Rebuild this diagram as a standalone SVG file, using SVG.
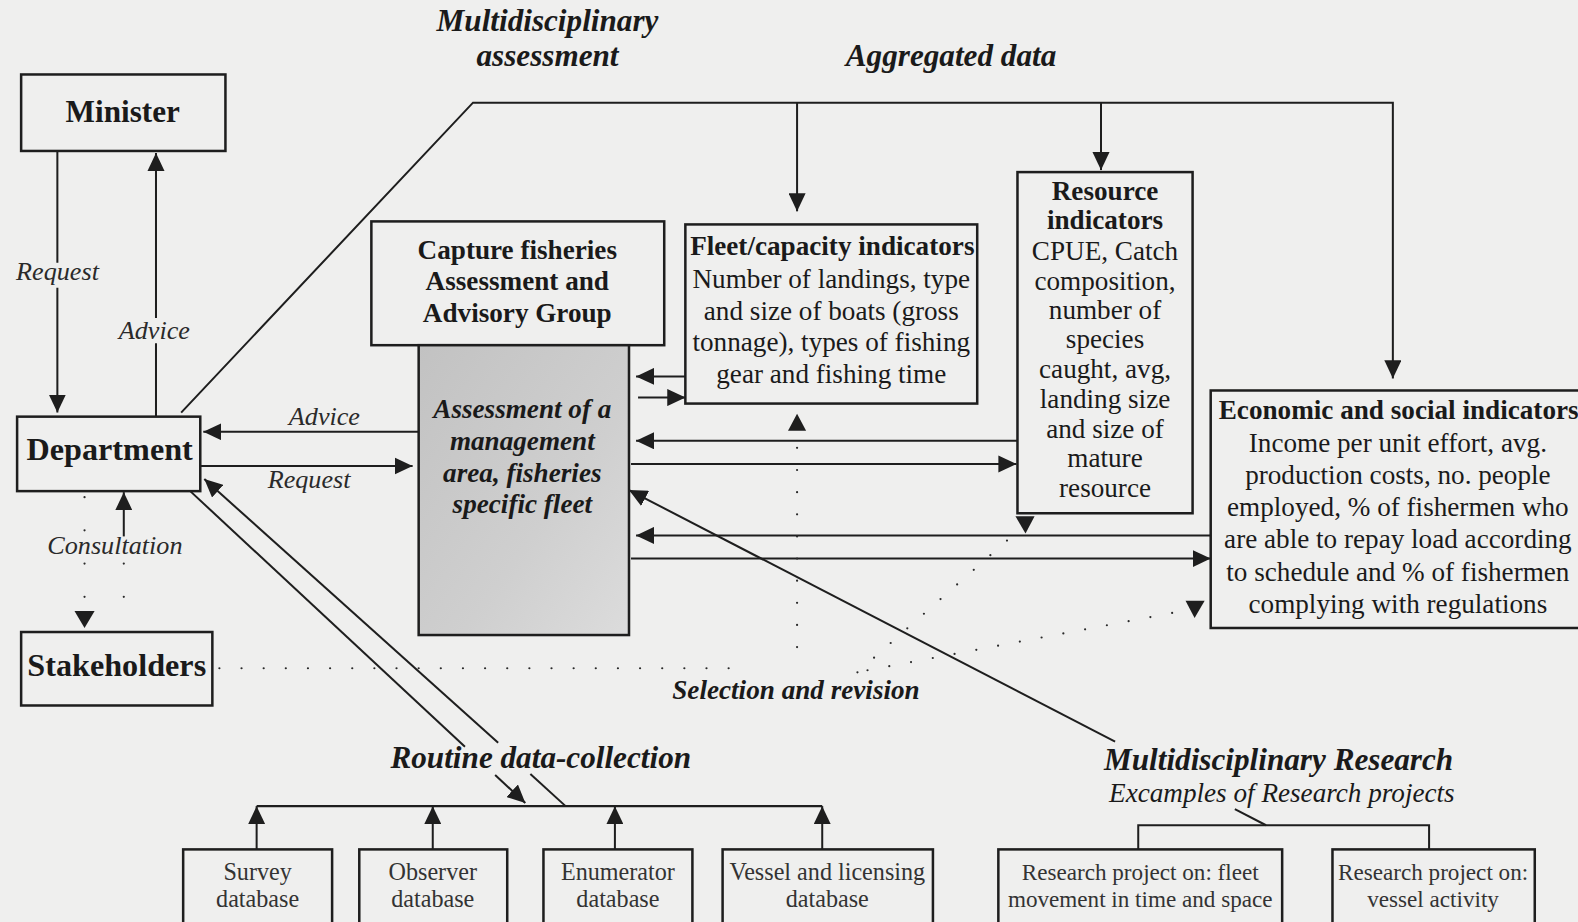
<svg xmlns="http://www.w3.org/2000/svg" width="1578" height="922" viewBox="0 0 1578 922">
<style>
.box{fill:none;stroke:#1e1e1e;stroke-width:2.5}
.ln{fill:none;stroke:#1e1e1e;stroke-width:2}
.dot{fill:none;stroke:#2a2a2a;stroke-width:2.2;stroke-linecap:round;stroke-dasharray:0 22}
.dot33{fill:none;stroke:#2a2a2a;stroke-width:2.2;stroke-linecap:round;stroke-dasharray:0 33}
.ah{fill:#1e1e1e}
text{font-family:"Liberation Serif","Times New Roman",serif;fill:#1a1a1a}
.b{font-weight:bold}
.bi{font-weight:bold;font-style:italic}
.i{font-style:italic}
.c{text-anchor:middle}
.big{font-size:31px}
.mid{font-size:27px}
.lab{font-size:26px;font-style:italic;fill:#2a2a2a}
.db{font-size:24px;fill:#333;text-anchor:middle}
.rp{font-size:23px;fill:#333;text-anchor:middle}
</style>
<defs>
<marker id="ar" markerWidth="18" markerHeight="17" refX="18" refY="8.5" orient="auto" markerUnits="userSpaceOnUse"><path d="M0,0 L18,8.5 L0,17 z" fill="#1e1e1e"/></marker>
<linearGradient id="gr" x1="0" y1="0" x2="1" y2="1"><stop offset="0" stop-color="#c2c2c2"/><stop offset="0.6" stop-color="#cfcfcf"/><stop offset="1" stop-color="#dcdcdc"/></linearGradient>
</defs>
<rect x="0" y="0" width="1578" height="922" fill="#efefee"/>
<g transform="scale(1.0064)">

<g id="connectors">
<path class="ln" d="M57,150 V261 M57,286 V410" marker-end="url(#ar)"/>
<path class="ln" d="M155,414 V341 M155,316 V152" marker-end="url(#ar)"/>
<path class="ln" d="M123,533 V489" marker-end="url(#ar)"/>
<path class="dot33" d="M84,494 V600"/>
<polygon class="ah" points="74,607 94,607 84,624"/>
<path class="dot33" d="M123,560 V624"/>
<path class="ln" d="M180,410 L470,102 H1384 V376" marker-end="url(#ar)"/>
<path class="ln" d="M792,102 V210" marker-end="url(#ar)"/>
<path class="ln" d="M1094,102 V169" marker-end="url(#ar)"/>
<path class="ln" d="M681,374 H632" marker-end="url(#ar)"/>
<path class="ln" d="M634,395 H681" marker-end="url(#ar)"/>
<path class="ln" d="M1011,438 H632" marker-end="url(#ar)"/>
<path class="ln" d="M627,461 H1010" marker-end="url(#ar)"/>
<path class="ln" d="M1203,532 H632" marker-end="url(#ar)"/>
<path class="ln" d="M627,555 H1203" marker-end="url(#ar)"/>
<path class="ln" d="M417,429 H202" marker-end="url(#ar)"/>
<path class="ln" d="M199,463 H410" marker-end="url(#ar)"/>
<path class="ln" d="M189,488 L462,742"/>
<path class="ln" d="M492,770 L522,798" marker-end="url(#ar)"/>
<path class="ln" d="M495,738 L203,476" marker-end="url(#ar)"/>
<path class="ln" d="M527,769 L562,801"/>
<path class="ln" d="M1108,737 L625,487" marker-end="url(#ar)"/>
<path class="ln" d="M1227,804 L1258,820"/>
<path class="ln" d="M255,801 H817"/>
<path class="ln" d="M255,844 V801" marker-end="url(#ar)"/>
<path class="ln" d="M430,844 V801" marker-end="url(#ar)"/>
<path class="ln" d="M611,844 V801" marker-end="url(#ar)"/>
<path class="ln" d="M817,844 V801" marker-end="url(#ar)"/>
<path class="ln" d="M1131,844 V820 H1420 V844"/>
<path class="dot" d="M218,664 H728"/>
<path class="dot" d="M792,643 V440"/>
<polygon class="ah" points="783,428 801,428 792,411"/>
<path class="dot" d="M852,668 L1003,535"/>
<polygon class="ah" points="1009,513 1028,513 1019,530"/>
<path class="dot" d="M862,666 L1165,609"/>
<polygon class="ah" points="1178,597 1197,597 1187,614"/>
</g>

<g id="labels">
<text class="bi big c" x="544" y="31">Multidisciplinary</text>
<text class="bi big c" x="544" y="66">assessment</text>
<text class="bi big c" x="945" y="66">Aggregated data</text>
<text class="lab" x="16" y="278">Request</text>
<text class="lab" x="118" y="337">Advice</text>
<text class="lab" x="287" y="422">Advice</text>
<text class="lab" x="266" y="485">Request</text>
<text class="lab" x="47" y="550">Consultation</text>
<text class="bi mid" x="668" y="695">Selection and revision</text>
<text class="bi big" x="388" y="763">Routine data-collection</text>
<text class="bi big" x="1097" y="765">Multidisciplinary Research</text>
<text class="i mid" x="1102" y="797" fill="#2a2a2a">Excamples of Research projects</text>
</g>

<g id="minister">
<rect class="box" x="21" y="74" width="203" height="76"/>
<text class="b c" x="122" y="121" font-size="31">Minister</text>
</g>
<g id="department">
<rect class="box" x="17" y="414" width="182" height="74"/>
<text class="b c" x="109" y="457" font-size="32">Department</text>
</g>
<g id="stakeholders">
<rect class="box" x="21" y="628" width="190" height="73"/>
<text class="b c" x="116" y="672" font-size="32">Stakeholders</text>
</g>
<g id="capture">
<rect class="box" x="369" y="220" width="291" height="123"/>
<text class="b c mid" x="514" y="257">Capture fisheries</text>
<text class="b c mid" x="514" y="288">Assessment and</text>
<text class="b c mid" x="514" y="320">Advisory Group</text>
</g>
<g id="assessment">
<rect x="416" y="343" width="209" height="288" fill="url(#gr)" stroke="#1e1e1e" stroke-width="2.5"/>
<text class="bi c mid" x="519" y="415">Assessment of a</text>
<text class="bi c mid" x="519" y="447">management</text>
<text class="bi c mid" x="519" y="479">area, fisheries</text>
<text class="bi c mid" x="519" y="510">specific fleet</text>
</g>
<g id="fleet">
<rect class="box" x="681" y="223" width="290" height="178"/>
<text class="b c mid" x="827" y="253">Fleet/capacity indicators</text>
<text class="c mid" x="826" y="286">Number of landings, type</text>
<text class="c mid" x="826" y="318">and size of boats (gross</text>
<text class="c mid" x="826" y="349">tonnage), types of fishing</text>
<text class="c mid" x="826" y="381">gear and fishing time</text>
</g>
<g id="resource">
<rect class="box" x="1011" y="171" width="174" height="339"/>
<text class="b c mid" x="1098" y="199">Resource</text>
<text class="b c mid" x="1098" y="228">indicators</text>
<text class="c mid" x="1098" y="258">CPUE, Catch</text>
<text class="c mid" x="1098" y="288">composition,</text>
<text class="c mid" x="1098" y="317">number of</text>
<text class="c mid" x="1098" y="346">species</text>
<text class="c mid" x="1098" y="376">caught, avg,</text>
<text class="c mid" x="1098" y="405">landing size</text>
<text class="c mid" x="1098" y="435">and size of</text>
<text class="c mid" x="1098" y="464">mature</text>
<text class="c mid" x="1098" y="494">resource</text>
</g>
<g id="economic">
<rect class="box" x="1203" y="388" width="400" height="236"/>
<text class="b mid" x="1211" y="416">Economic and social indicators</text>
<text class="c mid" x="1389" y="449">Income per unit effort, avg.</text>
<text class="c mid" x="1389" y="481">production costs, no. people</text>
<text class="c mid" x="1389" y="513">employed, % of fishermen who</text>
<text class="c mid" x="1389" y="545">are able to repay load according</text>
<text class="c mid" x="1389" y="577">to schedule and % of fishermen</text>
<text class="c mid" x="1389" y="609">complying with regulations</text>
</g>
<g id="survey">
<rect class="box" x="182" y="844" width="148" height="90"/>
<text class="db" x="256" y="874">Survey</text>
<text class="db" x="256" y="901">database</text>
</g>
<g id="observer">
<rect class="box" x="357" y="844" width="147" height="90"/>
<text class="db" x="430" y="874">Observer</text>
<text class="db" x="430" y="901">database</text>
</g>
<g id="enumerator">
<rect class="box" x="540" y="844" width="148" height="90"/>
<text class="db" x="614" y="874">Enumerator</text>
<text class="db" x="614" y="901">database</text>
</g>
<g id="vessel">
<rect class="box" x="718" y="844" width="209" height="90"/>
<text class="db" x="822" y="874">Vessel and licensing</text>
<text class="db" x="822" y="901">database</text>
</g>
<g id="research-fleet">
<rect class="box" x="992" y="844" width="282" height="90"/>
<text class="rp" x="1133" y="874">Research project on: fleet</text>
<text class="rp" x="1133" y="901">movement in time and space</text>
</g>
<g id="research-vessel">
<rect class="box" x="1324" y="844" width="201" height="90"/>
<text class="rp" x="1424" y="874">Research project on:</text>
<text class="rp" x="1424" y="901">vessel activity</text>
</g>
</g>
</svg>
